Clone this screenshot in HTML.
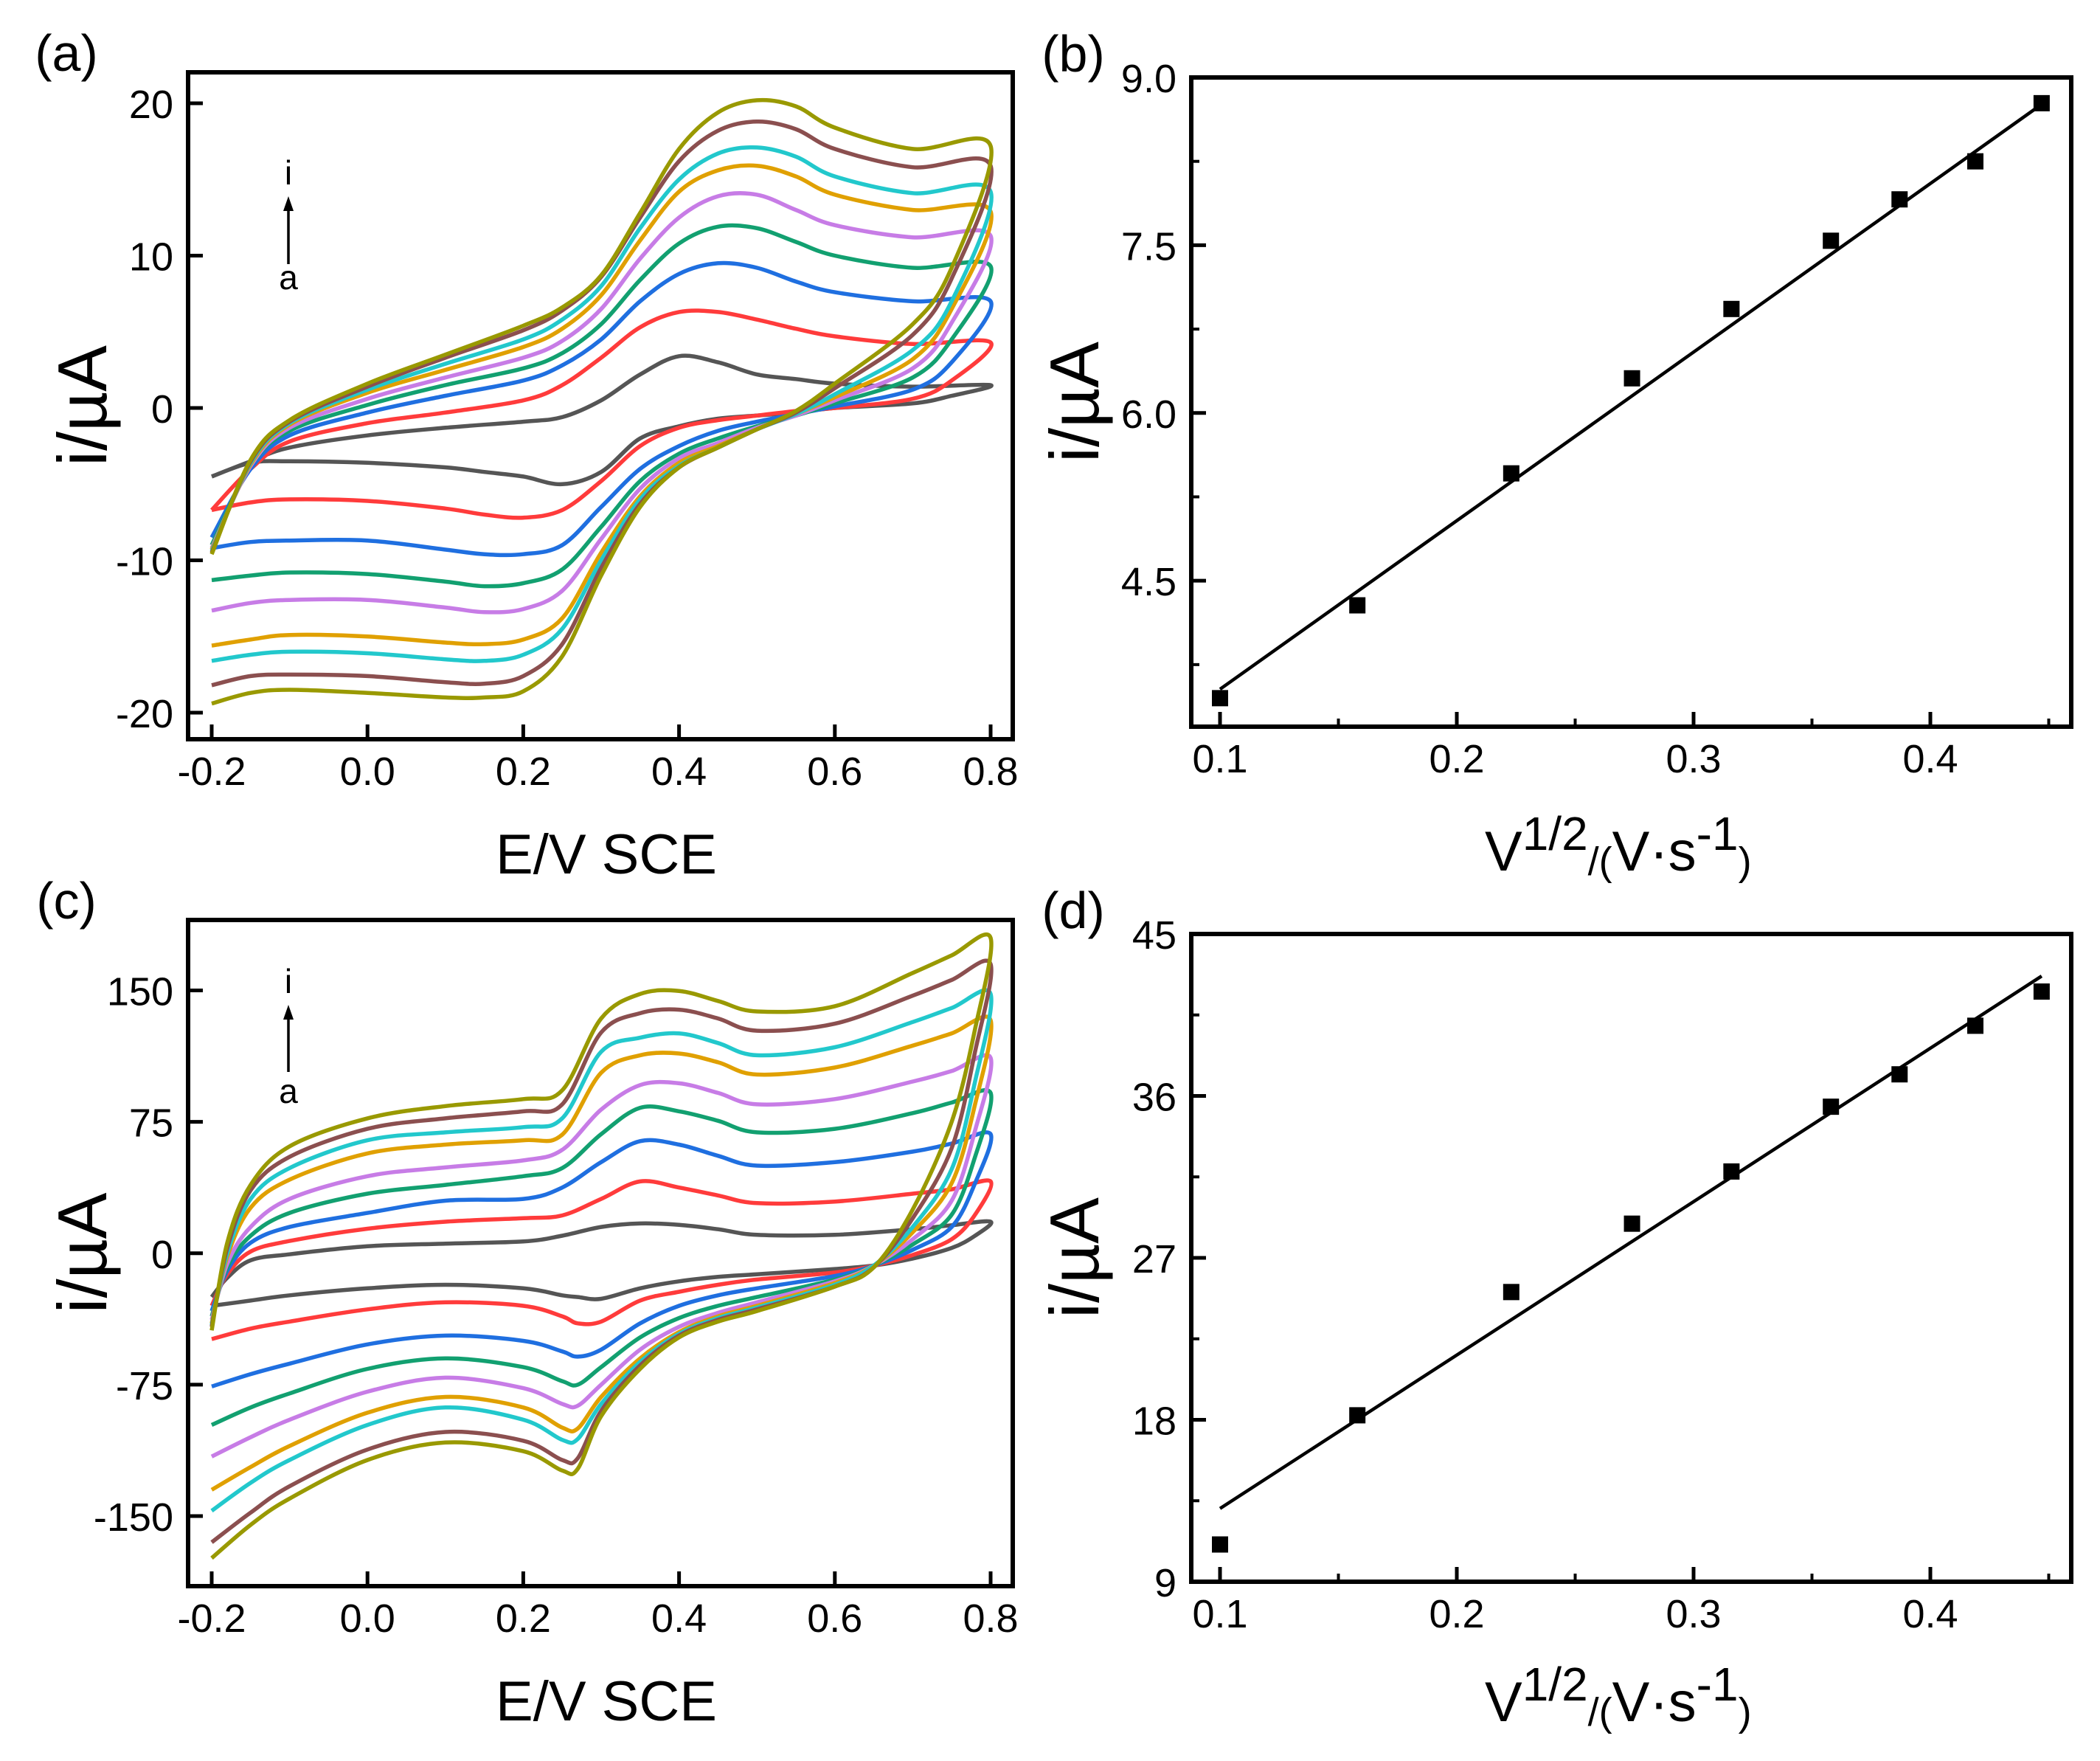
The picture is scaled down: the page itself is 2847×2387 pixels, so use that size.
<!DOCTYPE html>
<html><head><meta charset="utf-8"><style>
html,body{margin:0;padding:0;background:#fff}
svg{display:block}
text{font-family:"Liberation Sans",Arial,sans-serif;fill:#000}
</style></head><body>
<svg id="fig" width="2847" height="2387" viewBox="0 0 2847 2387" xmlns="http://www.w3.org/2000/svg">
<g id="root"></g>
</svg>
<script>
// ---------- shared ----------
const colors = ["#555555","#ff3b3b","#1f6fe0","#12a070","#c77ce6","#e0a000","#22c8cc","#8b4f4f","#999900"];
// ---------- panel (a) CV data ----------
const aUpperE = [-0.2,-0.15,-0.1,0,0.1,0.2,0.25,0.3,0.35,0.4,0.45,0.5,0.55,0.6,0.7,0.8];
const aLowerE = [0.8,0.75,0.7,0.6,0.55,0.5,0.45,0.4,0.35,0.3,0.25,0.2,0.15,0.1,0,-0.1,-0.15,-0.2];
const aUpper = [
 [-4.5,-3.5,-2.6,-1.8,-1.3,-0.9,-0.6,0.5,2.2,3.4,3.0,2.2,1.9,1.6,1.4,1.5],
 [-6.7,-4,-2.2,-1,-0.3,0.5,1.5,3.3,5.3,6.3,6.3,5.8,5.2,4.7,4.2,4.3],
 [-8.5,-4,-1.8,-0.3,0.8,1.8,2.8,4.5,7,8.8,9.5,9.2,8.3,7.6,7.0,7.0],
 [-9,-3.8,-1.5,0.2,1.5,2.6,3.6,5.5,8.4,10.8,11.9,11.8,10.9,10,9.2,9.3],
 [-9.2,-3.8,-1.3,0.6,2.0,3.3,4.4,6.5,9.8,12.5,13.9,14.0,13.0,12.0,11.2,11.3],
 [-9.3,-3.7,-1.1,1.0,2.5,4.0,5.2,7.4,11,14.2,15.6,15.9,15.2,14.0,13.0,12.9],
 [-9.4,-3.6,-1,1.2,2.9,4.5,5.8,8.0,11.8,15.0,16.7,17.1,16.5,15.2,14.1,14.2],
 [-9.5,-3.5,-0.9,1.4,3.3,5.1,6.4,8.6,12.5,16.2,18.2,18.8,18.3,17.0,15.8,15.9],
 [-9.6,-3.4,-0.8,1.6,3.5,5.4,6.6,8.7,12.8,17.0,19.4,20.2,19.8,18.4,17.0,17.2]
];
const aLower = [
 [1.5,0.8,0.3,0,-0.3,-0.5,-0.7,-1.2,-2.0,-4.2,-5.0,-4.5,-4.2,-3.9,-3.6,-3.5,-3.6,-4.5],
 [4.3,1.8,0.6,0,-0.2,-0.5,-0.8,-1.3,-2.5,-4.8,-6.7,-7.2,-7.0,-6.6,-6.1,-6.0,-6.2,-6.7],
 [7,3,1.2,0.1,-0.4,-0.9,-1.5,-2.5,-4,-6.5,-9,-9.6,-9.6,-9.3,-8.7,-8.7,-8.8,-9.2],
 [9.3,4.5,2,0.3,-0.5,-1.2,-2,-3,-4.8,-7.8,-10.6,-11.5,-11.7,-11.4,-10.9,-10.8,-11,-11.3],
 [11.3,5.6,2.6,0.5,-0.5,-1.3,-2.3,-3.3,-5.3,-8.6,-12,-13.2,-13.4,-13.1,-12.6,-12.6,-12.8,-13.3],
 [12.9,6.5,3.2,0.7,-0.4,-1.4,-2.5,-3.6,-5.8,-9.5,-13.8,-15.2,-15.5,-15.4,-15.0,-14.9,-15.2,-15.6],
 [14.2,7,3.8,0.9,-0.4,-1.4,-2.6,-3.8,-6,-10,-14.5,-16.2,-16.6,-16.5,-16.1,-16.0,-16.2,-16.6],
 [15.9,8.5,4.8,1.3,-0.3,-1.4,-2.6,-3.9,-6.3,-10.5,-15.5,-17.6,-18.1,-18.0,-17.6,-17.5,-17.6,-18.2],
 [17.2,9.2,5.5,1.6,-0.2,-1.4,-2.6,-3.9,-6.5,-11,-16.3,-18.6,-19.0,-19.0,-18.7,-18.5,-18.7,-19.4]
];
// ---------- panel (c) CV data ----------
const cUpperE = [-0.2,-0.18,-0.15,-0.1,0,0.1,0.2,0.25,0.3,0.35,0.4,0.45,0.5,0.6,0.7,0.75,0.8];
const cLowerE = [0.8,0.78,0.75,0.7,0.65,0.6,0.5,0.45,0.4,0.35,0.3,0.27,0.25,0.2,0.1,0,-0.1,-0.15,-0.2];
const cUpper = [
 [-25,-14,-4,-0.6,4,5.5,6.7,10,15,17,16.2,13.7,10.5,10.5,13.7,16,18],
 [-30,-12,1,7,14,18,20,21.6,31,41,37.5,33,28.6,29.5,34,36.5,41],
 [-33,-10,6,15,23,30,31,37.5,52,64,62,55.6,50,52,58,62.6,68],
 [-36,-8,10,23,34,39,44,48.6,68,83,81,75.6,69,71,80,86,91.5],
 [-38,-6,15,31,44,49,53,59,82,96,97,91.5,85,88,98,104,111.5],
 [-40,-2,26,42,57,62,64.5,67.7,103,113,114,109,102,106,118.5,125.5,133],
 [-41,0,31,48.6,64.5,69,72,77,115,123,125.5,120,113,117.6,132,140,148],
 [-42,3,36,55,71,77,81,85,126,137,139,134,127,131,147,156,165],
 [-44,6,39,61,77,84,88,93,134,148,149.7,144,138,141,160,170,180]
];
const cLower = [
 [18,10,3,-3,-7,-9,-12,-13.5,-16,-20,-26,-25,-24,-20,-18,-20,-24,-27,-30],
 [41,22,8,-1,-7,-11,-15,-18,-22,-27,-39,-40,-36,-30,-28,-32,-39,-43,-49],
 [68,40,15,2,-7,-13,-20,-24,-30,-40,-55,-59,-56,-50,-47,-52,-63,-69,-76],
 [91.5,55,22,5,-7,-15,-25,-30,-37,-48,-65,-75,-73,-65,-60,-66,-80,-88,-98],
 [111,70,30,8,-7,-16,-28,-34,-42,-55,-75,-87,-86,-77,-71,-79,-95,-105,-116],
 [133,85,40,12,-7,-17,-30,-36,-45,-60,-82,-100,-99.5,-88,-82,-91,-110,-122,-135],
 [148,98,48,15,-7,-18,-31,-37,-46,-62,-86,-106,-106.5,-95,-88,-98,-118,-131,-147],
 [165,115,60,20,-8,-19,-32,-38,-47,-64,-90,-117,-118,-107,-102,-112,-133,-148,-165],
 [180,128,75,25,-8,-19,-33,-39,-48,-66,-93,-123,-124,-113,-108,-118,-140,-155,-174]
];
// ---------- panels (b),(d) ----------
const sqrtV = [0.1,0.158,0.223,0.274,0.316,0.358,0.387,0.419,0.447];
const bPeak = [3.45,4.28,5.46,6.31,6.93,7.54,7.91,8.25,8.77];
const bFitX = [0.1,0.447];
const bFitY = [3.53,8.76];
const dPeak = [11.07,18.25,25.1,28.9,31.8,35.4,37.2,39.9,41.8];
const dFitX = [0.1,0.447];
const dFitY = [13.07,42.66];
const cvTicksX = [-0.2,0,0.2,0.4,0.6,0.8];
const cvTickLabelsX = ["-0.2","0.0","0.2","0.4","0.6","0.8"];
const aTicksY = [20,10,0,-10,-20];
const cTicksY = [150,75,0,-75,-150];
const bdTicksX = [0.1,0.2,0.3,0.4];
const bTicksY = [9.0,7.5,6.0,4.5];
const dTicksY = [45,36,27,18,9];

const NS="http://www.w3.org/2000/svg";
const root=document.getElementById('root');
function mk(tag,attrs,parent){const e=document.createElementNS(NS,tag);for(const k in attrs)e.setAttribute(k,attrs[k]);(parent||root).appendChild(e);return e;}
function txt(s,x,y,size,anchor,parent){const t=mk('text',{x:x,y:y,'font-size':size,'text-anchor':anchor||'middle'},parent);t.textContent=s;return t;}
function spline(pts){let d='M'+pts[0][0].toFixed(1)+','+pts[0][1].toFixed(1);
 for(let i=0;i<pts.length-1;i++){const p0=pts[Math.max(0,i-1)],p1=pts[i],p2=pts[i+1],p3=pts[Math.min(pts.length-1,i+2)];
  const c1=[p1[0]+(p2[0]-p0[0])/6,p1[1]+(p2[1]-p0[1])/6],c2=[p2[0]-(p3[0]-p1[0])/6,p2[1]-(p3[1]-p1[1])/6];
  d+='C'+c1[0].toFixed(1)+','+c1[1].toFixed(1)+' '+c2[0].toFixed(1)+','+c2[1].toFixed(1)+' '+p2[0].toFixed(1)+','+p2[1].toFixed(1);}
 return d;}

function frame(g,x0,y0,x1,y1){const r=mk('rect',{x:x0,y:y0,width:x1-x0,height:y1-y0,fill:'none',stroke:'#000','stroke-width':6},g);
 
 }

function cvPanel(name,label,box,ymin,ymax,yticks,uE,uI,lE,lI,arrowY){
 const g=mk('g',{});
 
 
 const [x0,y0,x1,y1,yTop,yBot]=box;
 const X=E=>287+(E+0.2)*1056;
 const Y=v=>yTop+(ymax-v)*(yBot-yTop)/(ymax-ymin);
 for(let k=0;k<uI.length;k++){
  const pts=[];uE.forEach((e,j)=>pts.push([X(e),Y(uI[k][j])]));
  lE.forEach((e,j)=>{if(j>0)pts.push([X(e),Y(lI[k][j])]);});
  const p=mk('path',{d:spline(pts),fill:'none',stroke:colors[k],'stroke-width':5.5,'stroke-linejoin':'round'},g);
  
  
 }
 frame(g,x0,y0,x1,y1);
 cvTicksX.forEach((t,i)=>{mk('line',{x1:X(t),x2:X(t),y1:y1,y2:y1-20,stroke:'#000','stroke-width':5},g);
  const tl=txt(cvTickLabelsX[i],X(t),y1+62,54,'middle',g);
  
  });
 yticks.forEach(t=>{mk('line',{x1:x0,x2:x0+20,y1:Y(t),y2:Y(t),stroke:'#000','stroke-width':5},g);
  const tl=txt(String(t),x0-20,Y(t)+20,54,'end',g);
  
  });
 const xt=txt('E/V SCE',822,y1+182,76,'middle',g);
 
 
 const yt=txt('i/\u00B5A',0,0,94,'middle',g);yt.setAttribute('transform','translate(144,'+((y0+y1)/2)+') rotate(-90)');
 
 
 const pl=txt(label,90,y0-2,70,'middle',g);
 
 
 const ag=mk('g',{},g);
 
 
 txt('i',391,arrowY[0],46,'middle',ag);
 mk('line',{x1:391,x2:391,y1:arrowY[2],y2:arrowY[1]+14,stroke:'#000','stroke-width':3.5},ag);
 mk('path',{d:`M391,${arrowY[1]} L384,${arrowY[1]+20} L398,${arrowY[1]+20}Z`,fill:'#000'},ag);
 txt('a',391,arrowY[3],46,'middle',ag);
}
cvPanel('panel-a-cv','(a)',[255,98,1373,1002,140,966],-20,20,aTicksY,aUpperE,aUpper,aLowerE,aLower,[250,266,358,392]);
cvPanel('panel-c-cv','(c)',[255,1247,1373,2150,1342.5,2055],-150,150,cTicksY,cUpperE,cUpper,cLowerE,cLower,[1346,1362,1453,1495]);

function fitPanel(name,label,box,ymin,ymax,yticks,ydec,minorY,ys,fx,fy,xlBase){
 const g=mk('g',{});
 
 
 const [x0,y0,x1,y1]=box;
 const X=v=>1654+(v-0.1)*3210;
 const Y=v=>y0+(ymax-v)*(y1-y0)/(ymax-ymin);
 const ln=mk('line',{x1:X(fx[0]),y1:Y(fy[0]),x2:X(fx[1]),y2:Y(fy[1]),stroke:'#000','stroke-width':4.5},g);
 
 
 sqrtV.forEach((v,i)=>{const r=mk('rect',{x:X(v)-11,y:Y(ys[i])-11,width:22,height:22,fill:'#000'},g);
  
  });
 frame(g,x0,y0,x1,y1);
 bdTicksX.forEach(t=>{mk('line',{x1:X(t),x2:X(t),y1:y1,y2:y1-20,stroke:'#000','stroke-width':5},g);
  mk('line',{x1:X(t+0.05),x2:X(t+0.05),y1:y1,y2:y1-11,stroke:'#000','stroke-width':4},g);
  const tl=txt(t.toFixed(1),X(t),y1+62,54,'middle',g);
  
  });
 yticks.forEach(t=>{mk('line',{x1:x0,x2:x0+20,y1:Y(t),y2:Y(t),stroke:'#000','stroke-width':5},g);
  if(t-minorY>ymin)mk('line',{x1:x0,x2:x0+11,y1:Y(t-minorY),y2:Y(t-minorY),stroke:'#000','stroke-width':4},g);
  const tl=txt(t.toFixed(ydec),x0-20,Y(t)+20,54,'end',g);
  
  });
 const xt=mk('text',{x:2013,y:xlBase,'font-size':76},g);
 
 
 xt.innerHTML='V<tspan font-size="64" dy="-28">1/2</tspan><tspan font-size="54" dy="34">/(</tspan><tspan font-size="76" dy="-6">V·s</tspan><tspan font-size="64" dy="-28">-1</tspan><tspan font-size="54" dy="34">)</tspan>';
 const yt=txt('i/\u00B5A',0,0,94,'middle',g);yt.setAttribute('transform','translate('+(x0-126)+','+((y0+y1)/2)+') rotate(-90)');
 
 
 const pl=txt(label,1455,y0-8,70,'middle',g);
 
 
}
fitPanel('panel-b-fit','(b)',[1615,105,2808,985],3.195,9.0,bTicksY,1,0.75,bPeak,bFitX,bFitY,1180);
fitPanel('panel-d-fit','(d)',[1615,1266,2808,2144],9,45,dTicksY,0,4.5,dPeak,dFitX,dFitY,2333);
</script>
</body></html>
